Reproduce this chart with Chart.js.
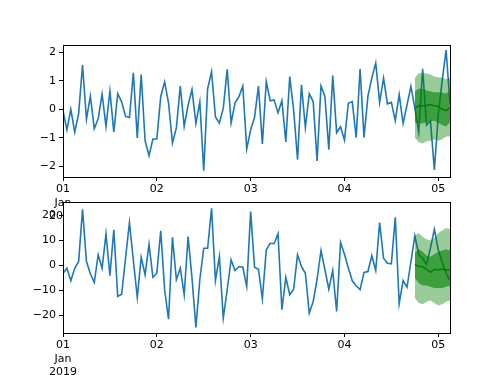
<!DOCTYPE html>
<html>
<head>
<meta charset="utf-8">
<script src="https://cdn.jsdelivr.net/npm/chart.js@4.4.0/dist/chart.umd.min.js"></script>
<style>
  body { margin: 0; background: #fff; }
  #wrap { position: relative; width: 500px; height: 375px; }
  canvas { position: absolute; left: 0; top: 0; }
</style>
</head>
<body>
<div id="wrap">
  <canvas id="topChart" width="500" height="375" style="z-index:1"></canvas>
  <canvas id="bottomChart" width="500" height="375" style="z-index:2"></canvas>
</div>
<script>
// hourly observations, 2019-01-01 00:00 onwards
const topValues = [
  -0.05, -0.72, 0.0, -0.8, -0.15, 1.55, -0.35, 0.46, -0.68, -0.33,
  0.53, -0.6, 0.64, -0.8, 0.55, 0.26, -0.25, -0.29, 1.28, -1.0,
  1.22, -1.1, -1.62, -1.04, -1.04, 0.44, 0.96, 0.22, -1.18, -0.65,
  0.81, -0.6, 0.14, 0.69, -0.5, 0.26, -2.15, 0.72, 1.32, -0.27,
  -0.48, 0.03, 1.4, -0.48, 0.22, 0.44, 0.81, -1.39, -0.72, -0.28,
  0.81, -1.21, 0.97, 0.3, 0.33, -0.12, 0.3, -1.14, 1.15, -0.02,
  -1.76, 0.86, -0.64, 0.54, 0.27, -1.81, 0.82, 0.45, -1.41, 1.18,
  -0.82, -0.61, -1.08, 0.21, 0.27, -0.99, 1.41, -0.99, 0.45, 1.09,
  1.62, 0.24, 1.09, 0.19, 0.24, -0.4, 0.51, -0.49, 0.15, 0.8,
  0.05, -0.8, 1.42, -0.55, -0.4, -2.12, -0.2, 1.0, 2.07, 0.2
];
const bottomValues = [
  -3.1, -1.1, -6.1, -1.1, 1.6, 22.5, 1.6, -3.3, -6.8, 4.3,
  -1.1, 12.7, -4.1, 14.3, -12.4, -11.5, 3, 17.2, 2, -12.7,
  3.3, -3.7, 8.5, -4.7, -3.1, 13.9, -9.7, -21.5, 11.3, -5.7,
  -1.1, -11.7, 11.6, -5, -24.8, -5.7, 6.9, 6.9, 22.9, -6,
  3.6, -21, -9.7, 2.3, -2, -0.4, -0.7, -8.4, 21.6, -0.7,
  -1.5, -13.3, 6.3, 8.9, 8.7, 12.7, -17.7, -4.7, -11.7, -9.5,
  4.3, -0.4, -3.1, -19.1, -14.4, -5.5, 6, -1.7, -9.5, -2,
  -18.4, 9.2, 4.5, -1, -6.1, -8.1, -9.7, -2.8, -2.4, 3.9,
  -2, 17.2, 2.9, 0.9, 0.7, 19.3, -15.3, -6, -8.7, 1.5,
  11.8, 4.5, 2.8, 0.3, 7, 14.5, 6.3, 1.2, -3, -6
];

// forecast over the last 10 hours
const forecastStart = 90;
const topMean    = [0.02, 0.13, 0.12, 0.13, 0.17, 0.12, 0.1, 0.0, -0.05, 0.05];
const topInnerHi = [0.62, 0.72, 0.72, 0.66, 0.62, 0.6, 0.6, 0.58, 0.55, 0.65];
const topInnerLo = [-0.45, -0.5, -0.5, -0.45, -0.42, -0.4, -0.48, -0.55, -0.6, -0.45];
const topOuterHi = [1.1, 1.25, 1.28, 1.25, 1.22, 1.15, 1.12, 1.1, 1.05, 1.1];
const topOuterLo = [-1.0, -1.15, -1.2, -1.12, -1.1, -1.05, -1.1, -1.05, -0.95, -0.95];

const bottomMean    = [0.3, -0.3, -0.5, -1.5, -2.7, -1.5, -1.8, -1.4, -1.8, -1.8];
const bottomInnerHi = [5, 6.5, 5.5, 4, 3.5, 4.5, 5.5, 6, 6.5, 6];
const bottomInnerLo = [-5, -7, -8, -8, -8.5, -9, -9, -9, -8.5, -8];
const bottomOuterHi = [12, 13, 11.5, 10.5, 10, 11, 13, 14, 15, 14.5];
const bottomOuterLo = [-13, -15, -15.5, -14.5, -14, -15, -16, -15.5, -14.5, -14];

const xTicks = [0, 24, 48, 72, 96];
const xTickLabels = [["01", "Jan", "2019"], "02", "03", "04", "05"];
const topYTicks = [-2, -1, 0, 1, 2];
const bottomYTicks = [-20, -10, 0, 10, 20];

const font = { family: "DejaVu Sans", size: 11, lineHeight: 1.2 };

function pts(arr, start) {
    return arr.map((v, i) => ({ x: start + i, y: v }));
}

// white axes background + black frame like matplotlib
const framePlugin = {
    id: "frame",
    beforeDraw(chart) {
        const a = chart.chartArea, ctx = chart.ctx;
        ctx.save();
        ctx.fillStyle = "#fff";
        ctx.fillRect(a.left, a.top, a.right - a.left, a.bottom - a.top);
        ctx.restore();
    },
    afterDraw(chart) {
        const a = chart.chartArea, ctx = chart.ctx;
        ctx.save();
        ctx.strokeStyle = "#000";
        ctx.lineWidth = 1;
        ctx.strokeRect(Math.round(a.left) + 0.5, Math.round(a.top) + 0.5,
            Math.round(a.right - a.left), Math.round(a.bottom - a.top));
        ctx.restore();
    }
};

function makeChart(id, values, mean, innerHi, innerLo, outerHi, outerLo, yMin, yMax, yTicks, padTop, xHeight) {
    return new Chart(id, {
        type: "line",
        data: {
            datasets: [
                { data: pts(mean, forecastStart), borderColor: "#008000", borderWidth: 1.5, pointRadius: 0 },
                { data: pts(innerHi, forecastStart), borderWidth: 0, pointRadius: 0, fill: 2, backgroundColor: "rgba(0,128,0,0.6)" },
                { data: pts(innerLo, forecastStart), borderWidth: 0, pointRadius: 0 },
                { data: pts(outerHi, forecastStart), borderWidth: 0, pointRadius: 0, fill: 4, backgroundColor: "rgba(0,128,0,0.4)" },
                { data: pts(outerLo, forecastStart), borderWidth: 0, pointRadius: 0 },
                { data: pts(values, 0), borderColor: "#1f77b4", borderWidth: 1.6, pointRadius: 0 }
            ]
        },
        options: {
            responsive: false,
            animation: false,
            layout: { padding: { top: padTop, right: 50, left: 0, bottom: 0 } },
            plugins: { legend: { display: false }, tooltip: { enabled: false } },
            scales: {
                x: {
                    type: "linear",
                    min: 0,
                    max: values.length - 1,
                    afterFit: s => { s.height = xHeight; },
                    afterBuildTicks: s => { s.ticks = xTicks.map(v => ({ value: v })); },
                    border: { display: false },
                    grid: { drawOnChartArea: false, color: "#000", tickLength: 4 },
                    ticks: {
                        color: "#000", font: font, padding: 2, maxRotation: 0, autoSkip: false,
                        callback: v => xTickLabels[xTicks.indexOf(v)]
                    }
                },
                y: {
                    min: yMin,
                    max: yMax,
                    afterFit: s => { s.width = 63; },
                    afterBuildTicks: s => { s.ticks = yTicks.map(v => ({ value: v })); },
                    border: { display: false },
                    grid: { drawOnChartArea: false, color: "#000", tickLength: 4 },
                    ticks: {
                        color: "#000", font: font, padding: 3,
                        callback: v => (v < 0 ? "\u2212" + Math.abs(v) : String(v))
                    }
                }
            }
        },
        plugins: [framePlugin]
    });
}

makeChart("topChart", topValues, topMean, topInnerHi, topInnerLo, topOuterHi, topOuterLo,
    -2.37, 2.25, topYTicks, 45, 198);
makeChart("bottomChart", bottomValues, bottomMean, bottomInnerHi, bottomInnerLo, bottomOuterHi, bottomOuterLo,
    -27, 25.4, bottomYTicks, 202, 42);
</script>
</body>
</html>
